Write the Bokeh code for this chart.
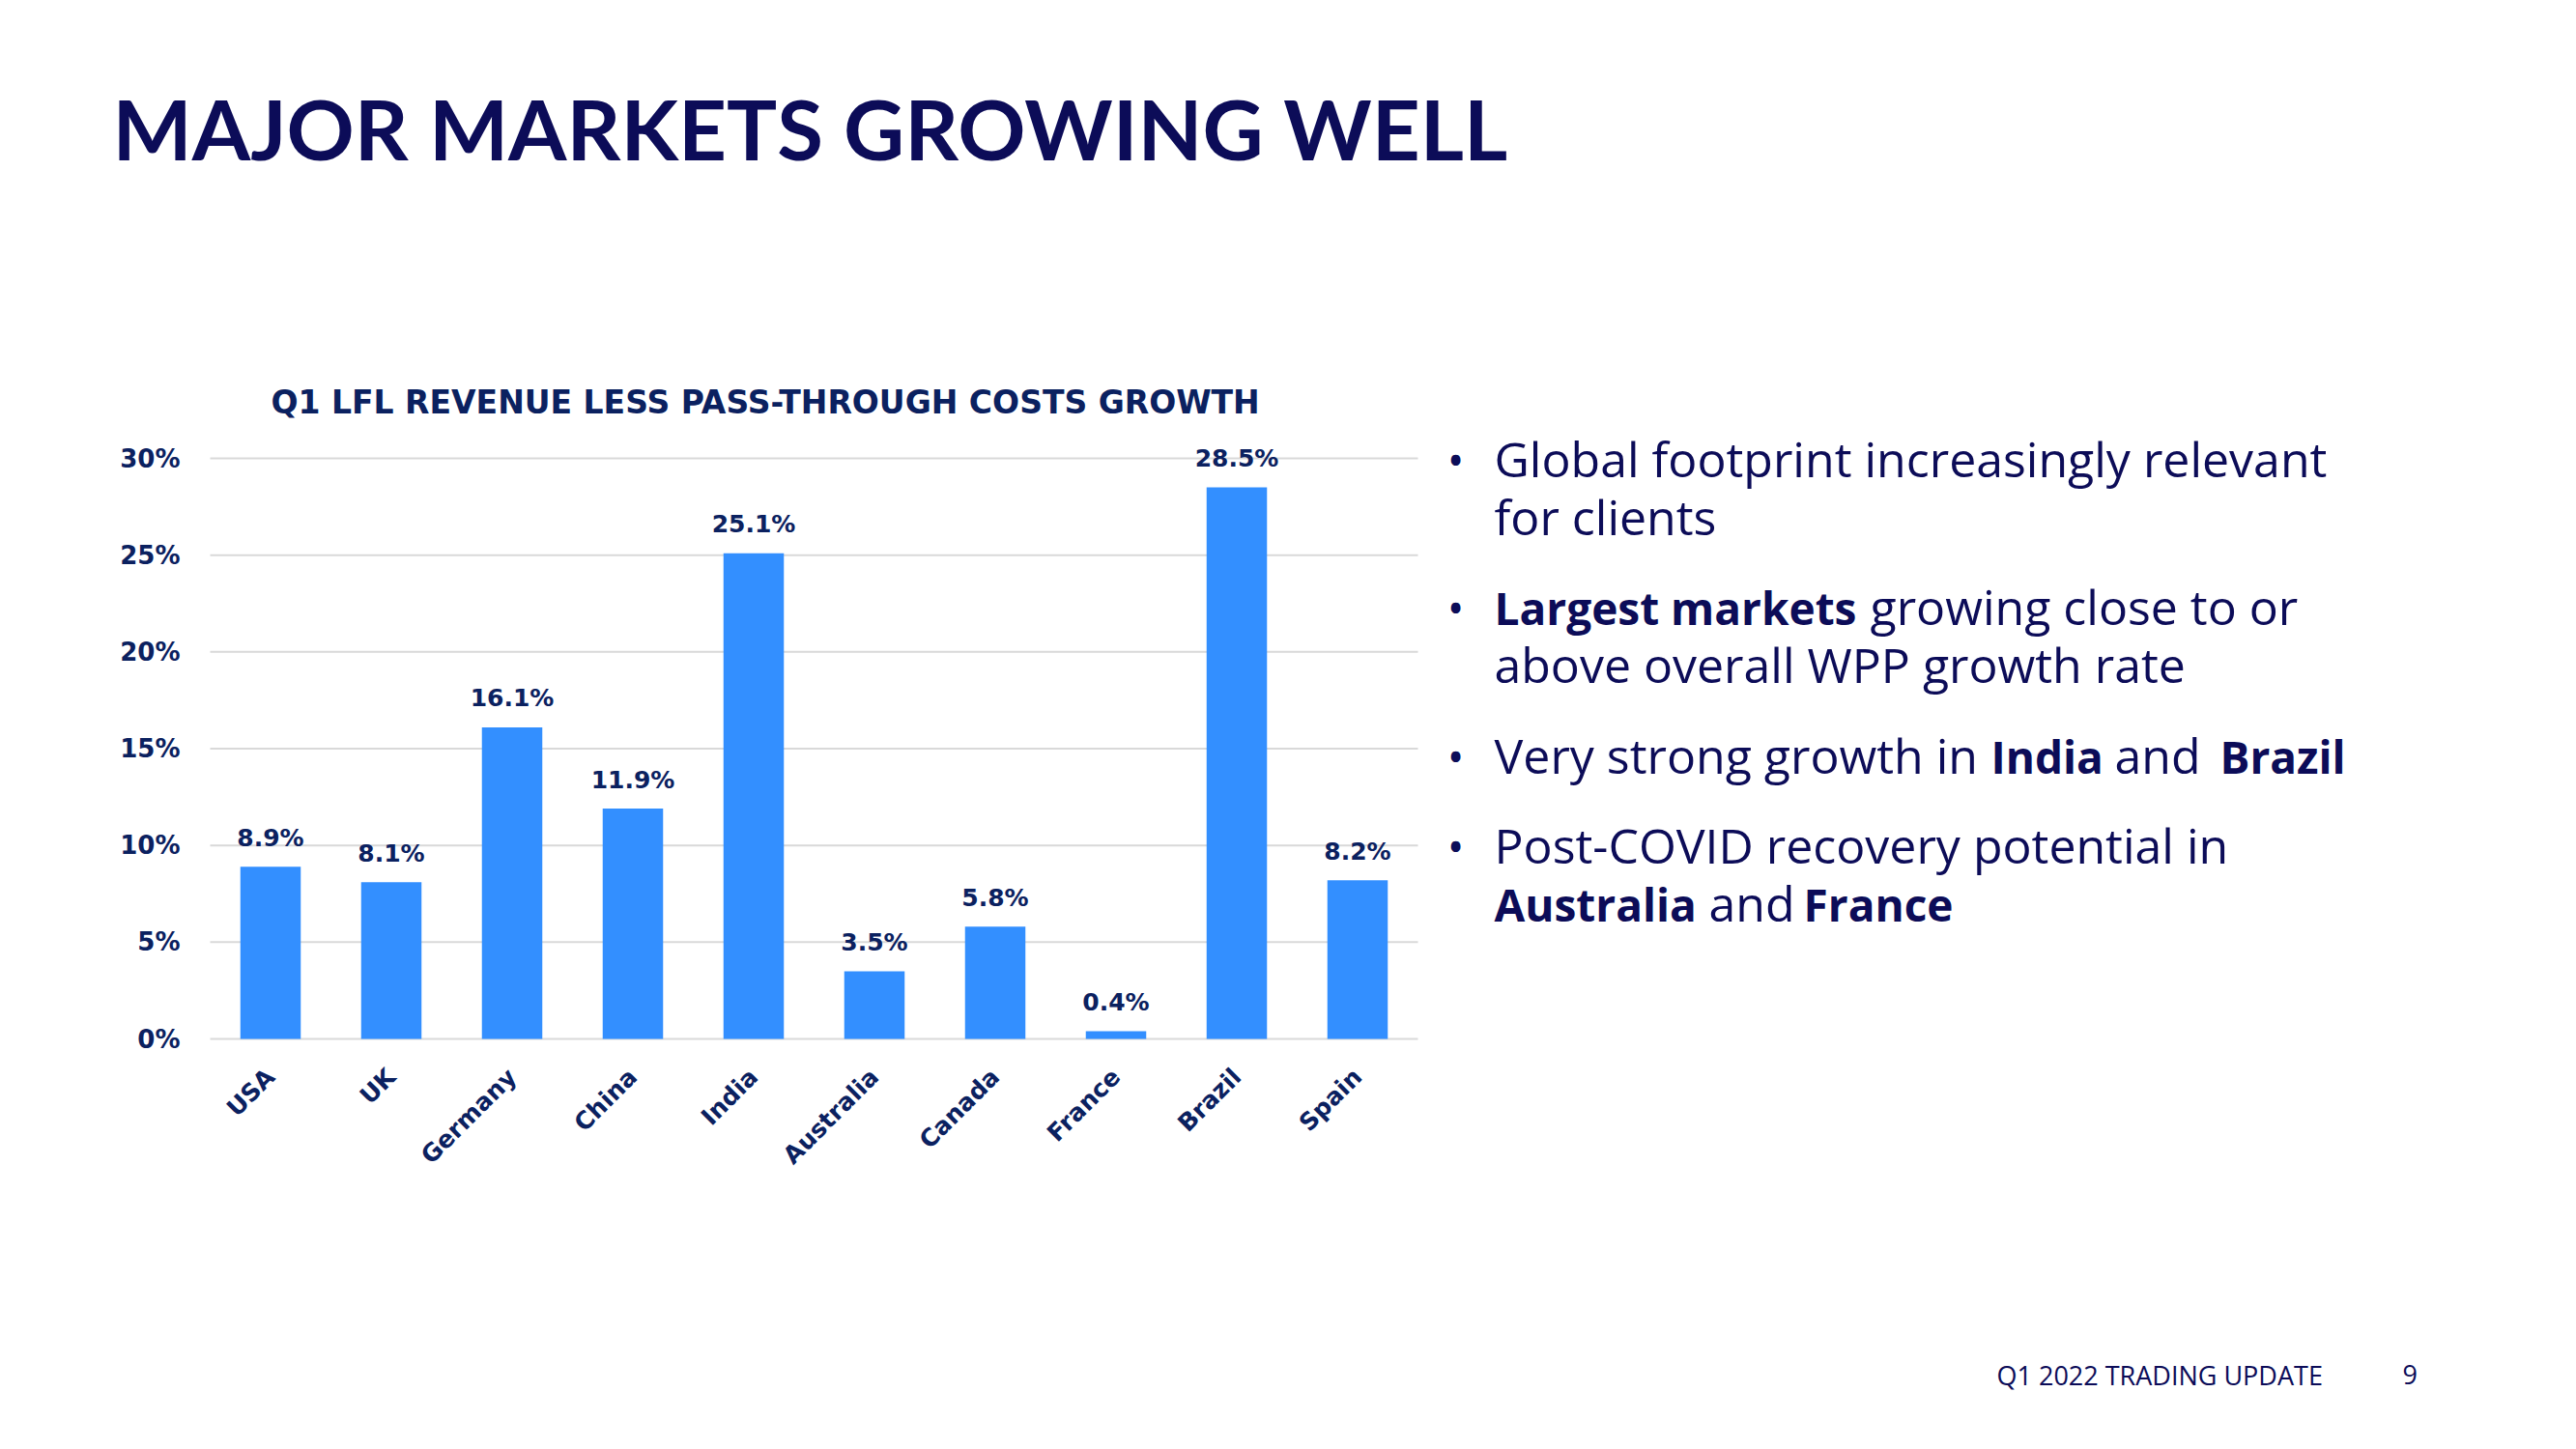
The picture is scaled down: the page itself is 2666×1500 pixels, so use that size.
import math
from bokeh.plotting import figure
from bokeh.models import Label, FixedTicker, Range1d, LinearAxis, ColumnDataSource
from bokeh.embed import file_html
from bokeh.resources import INLINE
from bokeh.core.properties import value

# ---------------- data ----------------
countries = ["USA", "UK", "Germany", "China", "India", "Australia", "Canada", "France", "Brazil", "Spain"]
growth = [8.9, 8.1, 16.1, 11.9, 25.1, 3.5, 5.8, 0.4, 28.5, 8.2]
growth_labels = ["8.9%", "8.1%", "16.1%", "11.9%", "25.1%", "3.5%", "5.8%", "0.4%", "28.5%", "8.2%"]
y_ticks = [0, 5, 10, 15, 20, 25, 30]
y_tick_labels = ["0%", "5%", "10%", "15%", "20%", "25%", "30%"]

title_text = "MAJOR MARKETS GROWING WELL"
chart_title = "Q1 LFL REVENUE LESS PASS-THROUGH COSTS GROWTH"
footer_text = "Q1 2022 TRADING UPDATE"
page_number = "9"

# ---------------- layout constants (canvas pixels) ----------------
W, H = 2650, 1484
CH_L, CH_R = 217, 1467     # chart area left/right
CH_B = 1075                # 0% baseline
UY = 601.0 / 30.0          # px per percentage point
UX = (CH_R - CH_L) / len(countries)

NAVY = "#0c0c58"
CHART_NAVY = "#0b2160"
BAR = "#338FFF"
GRID = "#d9d9d9"
CHART_FONT = "DejaVu Sans"
TEXT_FONT = "Open Sans"
TITLE_FONT = "Lato"


def X(px):
    return (px - CH_L) / UX


def Y(py):
    return (CH_B - py) / UY


p = figure(width=W, height=H,
           x_range=Range1d(X(0), X(W)), y_range=Range1d(Y(H), Y(0)),
           x_axis_type=None, y_axis_type=None,
           output_backend="svg", toolbar_location=None, min_border=0)
p.outline_line_color = None
p.background_fill_color = "white"
p.border_fill_color = "white"

# category centres on the numeric scale (one unit per category)
x_pos = [i + 0.5 for i in range(len(countries))]

# gridlines at the y ticks, spanning the category axis
p.segment(x0=[0] * len(y_ticks), x1=[len(countries)] * len(y_ticks), y0=y_ticks, y1=y_ticks,
          line_color=GRID, line_width=2)

src = ColumnDataSource(dict(x=x_pos, growth=growth, label=growth_labels))
p.vbar(x="x", top="growth", width=0.5, source=src, fill_color=BAR, line_color=None)
p.text(x="x", y="growth", text="label", source=src,
       text_align="center", text_baseline="alphabetic", y_offset=-30,
       text_font=value(CHART_FONT), text_font_style="bold", text_font_size="25px",
       text_color=CHART_NAVY)

# axes, fixed at the chart's own origin
yax = LinearAxis(ticker=FixedTicker(ticks=y_ticks),
                 major_label_overrides=dict(zip(y_ticks, y_tick_labels)),
                 fixed_location=0)
xax = LinearAxis(ticker=FixedTicker(ticks=x_pos),
                 major_label_overrides=dict(zip(x_pos, countries)),
                 fixed_location=0)
for ax in (xax, yax):
    ax.axis_line_color = None
    ax.major_tick_line_color = None
    ax.minor_tick_line_color = None
    ax.major_tick_in = 0
    ax.major_tick_out = 0
    ax.major_label_text_font = CHART_FONT
    ax.major_label_text_font_style = "bold"
    ax.major_label_text_color = CHART_NAVY
yax.major_label_text_font_size = "26px"
xax.major_label_text_font_size = "25px"
yax.major_label_standoff = 31
xax.major_label_orientation = math.pi / 4
xax.major_label_standoff = 35
p.add_layout(yax, "left")
p.add_layout(xax, "below")

SHIFT = 0.38  # baseline correction, in em


def lab(text, xf, yf, size, bold=False, font=TEXT_FONT, color=NAVY, align="left"):
    p.add_layout(Label(x=X(xf), y=Y(yf - SHIFT * size), x_units="data", y_units="data", text=text,
                       text_font=font, text_font_size=f"{size}px",
                       text_font_style="bold" if bold else "normal",
                       text_color=color, text_align=align, text_baseline="alphabetic"))


# slide title
lab(title_text, 116, 165, 87, bold=True, font=TITLE_FONT)
# chart title
lab(chart_title, 280, 429, 33, bold=True, font=CHART_FONT, color=CHART_NAVY)

# bullets
RS = 50   # regular runs
BB = 46   # bold runs
bx = 1506
tx = 1546
lab("•", bx, 493, 47, align="center")
lab("Global footprint increasingly relevant", tx, 493, RS)
lab("for clients", tx, 553, RS)

lab("•", bx, 646, 47, align="center")
lab("Largest markets", tx, 646, BB, bold=True)
lab("growing close to or", 1935, 646, RS)
lab("above overall WPP growth rate", tx, 706, RS)

lab("•", bx, 800, 47, align="center")
lab("Very strong growth in", tx, 800, RS)
lab("India", 2060, 800, BB, bold=True)
lab("and", 2188, 800, RS)
lab("Brazil", 2297, 800, BB, bold=True)

lab("•", bx, 893, 47, align="center")
lab("Post-COVID recovery potential in", tx, 893, RS)
lab("Australia", tx, 953, BB, bold=True)
lab("and", 1768, 953, RS)
lab("France", 1866, 953, BB, bold=True)

# footer
lab(footer_text, 2066, 1433, 27)
lab(page_number, 2486, 1433, 27)

open("out.html", "w").write(file_html(p, INLINE))
